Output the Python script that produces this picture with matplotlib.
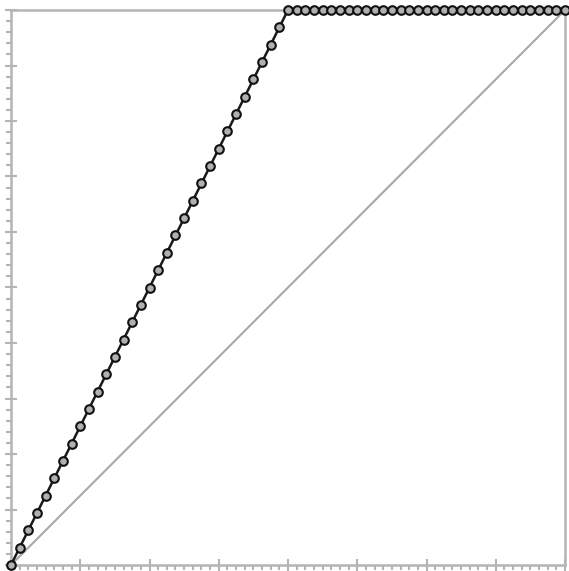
import numpy as np
import matplotlib
matplotlib.use("Agg")
import matplotlib.pyplot as plt
from matplotlib.ticker import MultipleLocator

# cumulative gain curve, 65 points (x = 0..64)
n_steps = list(range(65))
gain = [i / 32 for i in range(33)] + [1.0] * 32
baseline_x = [0, 64]
baseline_y = [0, 1]

grey = "#b4b4b4"

fig = plt.figure(figsize=(5.69, 5.71), dpi=100)
ax = fig.add_axes([11 / 569, 6 / 571, 554 / 569, 555 / 571])

ax.plot(baseline_x, baseline_y, color="#a8a8a8", lw=1.5, zorder=2)
ax.plot(n_steps, gain, color="#1a1a1a", lw=1.8, marker="o", ms=6.2,
        mfc="#b0b0b0", mec="#111111", mew=1.5, zorder=3, clip_on=False)

ax.set_xlim(0, 64)
ax.set_ylim(0, 1)
ax.xaxis.set_major_locator(MultipleLocator(8))
ax.xaxis.set_minor_locator(MultipleLocator(1))
ax.yaxis.set_major_locator(MultipleLocator(0.1))
ax.yaxis.set_minor_locator(MultipleLocator(0.02))
ax.tick_params(which="major", direction="inout", length=8, width=1.5, color=grey,
               labelbottom=False, labelleft=False)
ax.tick_params(which="minor", direction="out", length=3.5, width=1.5, color=grey)

for s in ax.spines.values():
    s.set_color(grey)
    s.set_linewidth(1.8)

fig.savefig("out.png", dpi=100)
